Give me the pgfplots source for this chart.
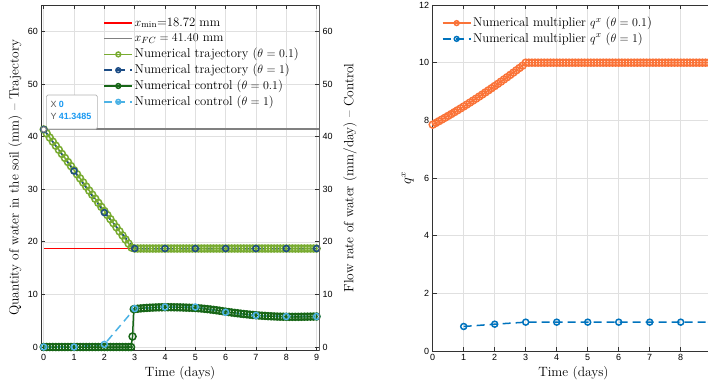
\documentclass[border=0pt]{standalone}
\usepackage{fontspec}
\usepackage{pgfplots}
\pgfplotsset{compat=1.18}
\newfontfamily\tickfont{Liberation Sans}

\definecolor{trajA}{rgb}{0.47,0.67,0.19}
\definecolor{trajB}{rgb}{0.11,0.30,0.52}
\definecolor{ctrlA}{rgb}{0.09,0.40,0.09}
\definecolor{ctrlB}{rgb}{0.30,0.70,0.90}
\definecolor{multA}{rgb}{0.98,0.45,0.22}
\definecolor{multB}{rgb}{0.00,0.45,0.74}
\definecolor{tipblue}{rgb}{0.10,0.60,0.95}

\pgfplotsset{
  base/.style={
    scale only axis,
    anchor=south west,
    tick label style={font=\tickfont\fontsize{9}{10}\selectfont},
    /pgf/number format/assume math mode=true,
    label style={font=\fontsize{13.5}{15}\selectfont},
    grid=major,
    major grid style={black!12, line width=0.5bp},
    axis line style={black!80, line width=0.6bp},
    tick style={black!80, line width=0.6bp},
    major tick length=4bp,
    tick align=inside,
    xlabel={Time (days)},
    xlabel style={at={(axis description cs:0.5,0)}, anchor=center, yshift=-22bp},
    legend style={draw=none, fill=none, font=\fontsize{12.8}{14}\selectfont,
      cells={anchor=west}, inner sep=0pt, row sep=0pt,
      nodes={inner sep=1.6bp, text height=9.6bp, text depth=3bp}},
    legend image code/.code={
      \draw[mark repeat=2, mark phase=2, mark size=2.4pt]
        plot coordinates {(0bp,0bp) (14bp,0bp) (28bp,0bp)};},
  },
  dense/.style={mark=o, mark size=3.5pt, line width=1.5bp},
}

\begin{document}
\begin{tikzpicture}
\useasboundingbox (0,0) rectangle (708bp,387bp);

% ---------- left panel: trajectory and control ----------
\begin{axis}[base,
  at={(41.3bp,36.3bp)}, width=277.7bp, height=345.7bp,
  xmin=-0.08, xmax=9.08, ymin=-0.7, ymax=65,
  xtick={0,...,9}, ytick={0,10,...,60},
  ytick pos=left, xtick pos=both,
  ylabel={Quantity of water in the soil (mm) -- Trajectory},
  ylabel style={at={(axis description cs:-0.094,0.5)}, anchor=center},
  legend style={at={(62bp,336bp)}, anchor=north west},
]
\addplot[red, line width=1.6bp, mark=none,
  legend image code/.code={\draw[red, line width=1.6bp] (0bp,0bp) -- (28bp,0bp);}]
  coordinates {(0,18.72) (9,18.72)};
\addlegendentry{$x_{\min}$=18.72 mm}
\addplot[black!50, line width=1.6bp, mark=none,
  legend image code/.code={\draw[black!50, line width=1.6bp] (0bp,0bp) -- (28bp,0bp);}]
  coordinates {(0,41.40) (9.08,41.40)};
\addlegendentry{$x_{FC} = 41.40$ mm}

% trajectory, theta = 0.1
\addplot[trajA, dense] coordinates {
(0.0,41.35) (0.1,40.58) (0.2,39.80) (0.3,39.03) (0.4,38.25) (0.5,37.48)
(0.6,36.70) (0.7,35.93) (0.8,35.15) (0.9,34.38) (1.0,33.60) (1.1,32.83)
(1.2,32.05) (1.3,31.28) (1.4,30.50) (1.5,29.73) (1.6,28.95) (1.7,28.18)
(1.8,27.40) (1.9,26.63) (2.0,25.85) (2.1,25.08) (2.2,24.30) (2.3,23.53)
(2.4,22.75) (2.5,21.98) (2.6,21.20) (2.7,20.43) (2.8,19.65) (2.9,18.88)
(3.0,18.72) (3.1,18.72) (3.2,18.72) (3.3,18.72) (3.4,18.72) (3.5,18.72)
(3.6,18.72) (3.7,18.72) (3.8,18.72) (3.9,18.72) (4.0,18.72) (4.1,18.72)
(4.2,18.72) (4.3,18.72) (4.4,18.72) (4.5,18.72) (4.6,18.72) (4.7,18.72)
(4.8,18.72) (4.9,18.72) (5.0,18.72) (5.1,18.72) (5.2,18.72) (5.3,18.72)
(5.4,18.72) (5.5,18.72) (5.6,18.72) (5.7,18.72) (5.8,18.72) (5.9,18.72)
(6.0,18.72) (6.1,18.72) (6.2,18.72) (6.3,18.72) (6.4,18.72) (6.5,18.72)
(6.6,18.72) (6.7,18.72) (6.8,18.72) (6.9,18.72) (7.0,18.72) (7.1,18.72)
(7.2,18.72) (7.3,18.72) (7.4,18.72) (7.5,18.72) (7.6,18.72) (7.7,18.72)
(7.8,18.72) (7.9,18.72) (8.0,18.72) (8.1,18.72) (8.2,18.72) (8.3,18.72)
(8.4,18.72) (8.5,18.72) (8.6,18.72) (8.7,18.72) (8.8,18.72) (8.9,18.72)
(9.0,18.72)};
\addlegendentry{Numerical trajectory ($\theta = 0.1$)}

% trajectory, theta = 1
\addplot[trajB, mark=o, mark size=3pt, line width=1.5bp,
  dash pattern=on 8bp off 5bp, mark options={solid}] coordinates {
(0,41.35) (1,33.45) (2,25.55) (3,18.72) (4,18.72) (5,18.72)
(6,18.72) (7,18.72) (8,18.72) (9,18.72)};
\addlegendentry{Numerical trajectory ($\theta = 1$)}

% control, theta = 0.1
\addplot[ctrlA, dense] coordinates {
(0.0,0) (0.1,0) (0.2,0) (0.3,0) (0.4,0) (0.5,0) (0.6,0) (0.7,0) (0.8,0)
(0.9,0) (1.0,0) (1.1,0) (1.2,0) (1.3,0) (1.4,0) (1.5,0) (1.6,0) (1.7,0)
(1.8,0) (1.9,0) (2.0,0) (2.1,0) (2.2,0) (2.3,0) (2.4,0) (2.5,0) (2.6,0)
(2.7,0) (2.8,0) (2.88,0) (2.93,2.0) (2.97,7.20)
(3.0,7.22) (3.1,7.28) (3.2,7.34) (3.3,7.39) (3.4,7.43) (3.5,7.47)
(3.6,7.50) (3.7,7.52) (3.8,7.54) (3.9,7.55) (4.0,7.56) (4.1,7.56)
(4.2,7.56) (4.3,7.55) (4.4,7.54) (4.5,7.53) (4.6,7.51) (4.7,7.49)
(4.8,7.47) (4.9,7.44) (5.0,7.41) (5.1,7.37) (5.2,7.32) (5.3,7.26)
(5.4,7.20) (5.5,7.13) (5.6,7.06) (5.7,6.98) (5.8,6.90) (5.9,6.81)
(6.0,6.72) (6.1,6.64) (6.2,6.56) (6.3,6.48) (6.4,6.41) (6.5,6.34)
(6.6,6.27) (6.7,6.21) (6.8,6.15) (6.9,6.09) (7.0,6.04) (7.1,5.99)
(7.2,5.95) (7.3,5.91) (7.4,5.87) (7.5,5.84) (7.6,5.81) (7.7,5.79)
(7.8,5.77) (7.9,5.76) (8.0,5.75) (8.1,5.74) (8.2,5.74) (8.3,5.74)
(8.4,5.74) (8.5,5.75) (8.6,5.76) (8.7,5.77) (8.8,5.78) (8.9,5.79)
(9.0,5.80)};
\addlegendentry{Numerical control ($\theta = 0.1$)}

% control, theta = 1
\addplot[ctrlB, mark=o, mark size=3pt, line width=1.5bp,
  dash pattern=on 8bp off 5bp, mark options={solid}] coordinates {
(0,0) (1,0) (2,0.5) (3,7.3) (4,7.6) (5,7.6) (6,6.6) (7,6.0) (8,5.8) (9,5.8)};
\addlegendentry{Numerical control ($\theta = 1$)}

% highlighted data point with its data tip
\addplot[forget plot, only marks, mark=*, mark size=2.6pt,
  mark options={draw=gray, fill=white, line width=1bp}] coordinates {(0,41.3485)};
\node[anchor=south west, draw=black!30, fill=white, rounded corners=1.5bp,
  line width=0.7bp, inner sep=0pt, minimum width=51bp, minimum height=34bp,
  xshift=2.3bp, yshift=0bp]
  (tip) at (axis cs:0,41.3485) {};
\node[anchor=north west, align=left, inner sep=0pt,
  font=\tickfont\fontsize{9}{11.6}\selectfont]
  at ([xshift=4.3bp, yshift=-6.3bp]tip.north west)
  {{\color{black!65}X} {\color{tipblue}\bfseries 0}\\
   {\color{black!65}Y} {\color{tipblue}\bfseries 41.3485}};
\end{axis}

% right-hand scale of the left panel
\begin{axis}[base,
  at={(41.3bp,36.3bp)}, width=277.7bp, height=345.7bp,
  xmin=-0.08, xmax=9.08, ymin=-0.7, ymax=65,
  axis x line=none, axis y line*=right, grid=none,
  ytick={0,10,...,60}, xlabel={},
  axis line style={black!60, line width=0.6bp},
  ylabel={Flow rate of water (mm/day) -- Control},
  ylabel style={at={(axis description cs:1.112,0.5)}, anchor=center},
]
\addplot[draw=none] coordinates {(0,0)};
\end{axis}

% ---------- right panel: multiplier ----------
\begin{axis}[base,
  at={(432.7bp,36bp)}, width=281.5bp, height=346bp,
  xmin=0, xmax=9.08, ymin=0, ymax=12,
  xtick={0,...,8}, ytick={0,2,...,12},
  ytick pos=left, xtick pos=both,
  ylabel={$q^x$},
  ylabel style={at={(axis description cs:-0.089,0.5)}, anchor=center},
  legend style={at={(9bp,336bp)}, anchor=north west},
]
\addplot[multA, dense] coordinates {
(0.0,7.850) (0.1,7.909) (0.2,7.970) (0.3,8.031) (0.4,8.092) (0.5,8.155)
(0.6,8.218) (0.7,8.283) (0.8,8.348) (0.9,8.413) (1.0,8.480) (1.1,8.547)
(1.2,8.616) (1.3,8.685) (1.4,8.754) (1.5,8.825) (1.6,8.896) (1.7,8.969)
(1.8,9.042) (1.9,9.115) (2.0,9.190) (2.1,9.265) (2.2,9.342) (2.3,9.419)
(2.4,9.496) (2.5,9.575) (2.6,9.654) (2.7,9.735) (2.8,9.816) (2.9,9.897)
(3.0,10) (3.1,10) (3.2,10) (3.3,10) (3.4,10) (3.5,10) (3.6,10) (3.7,10)
(3.8,10) (3.9,10) (4.0,10) (4.1,10) (4.2,10) (4.3,10) (4.4,10) (4.5,10)
(4.6,10) (4.7,10) (4.8,10) (4.9,10) (5.0,10) (5.1,10) (5.2,10) (5.3,10)
(5.4,10) (5.5,10) (5.6,10) (5.7,10) (5.8,10) (5.9,10) (6.0,10) (6.1,10)
(6.2,10) (6.3,10) (6.4,10) (6.5,10) (6.6,10) (6.7,10) (6.8,10) (6.9,10)
(7.0,10) (7.1,10) (7.2,10) (7.3,10) (7.4,10) (7.5,10) (7.6,10) (7.7,10)
(7.8,10) (7.9,10) (8.0,10) (8.1,10) (8.2,10) (8.3,10) (8.4,10) (8.5,10)
(8.6,10) (8.7,10) (8.8,10) (8.9,10) (9.0,10)};
\addlegendentry{Numerical multiplier $q^x$ ($\theta = 0.1$)}
\addplot[multB, mark=o, mark size=3pt, line width=1.5bp,
  dash pattern=on 8bp off 5bp, mark options={solid}] coordinates {
(1,0.85) (2,0.93) (3,1.0) (4,1.0) (5,1.0) (6,1.0) (7,1.0) (8,1.0) (9,1.0)};
\addlegendentry{Numerical multiplier $q^x$ ($\theta = 1$)}
\end{axis}
\end{tikzpicture}
\end{document}
